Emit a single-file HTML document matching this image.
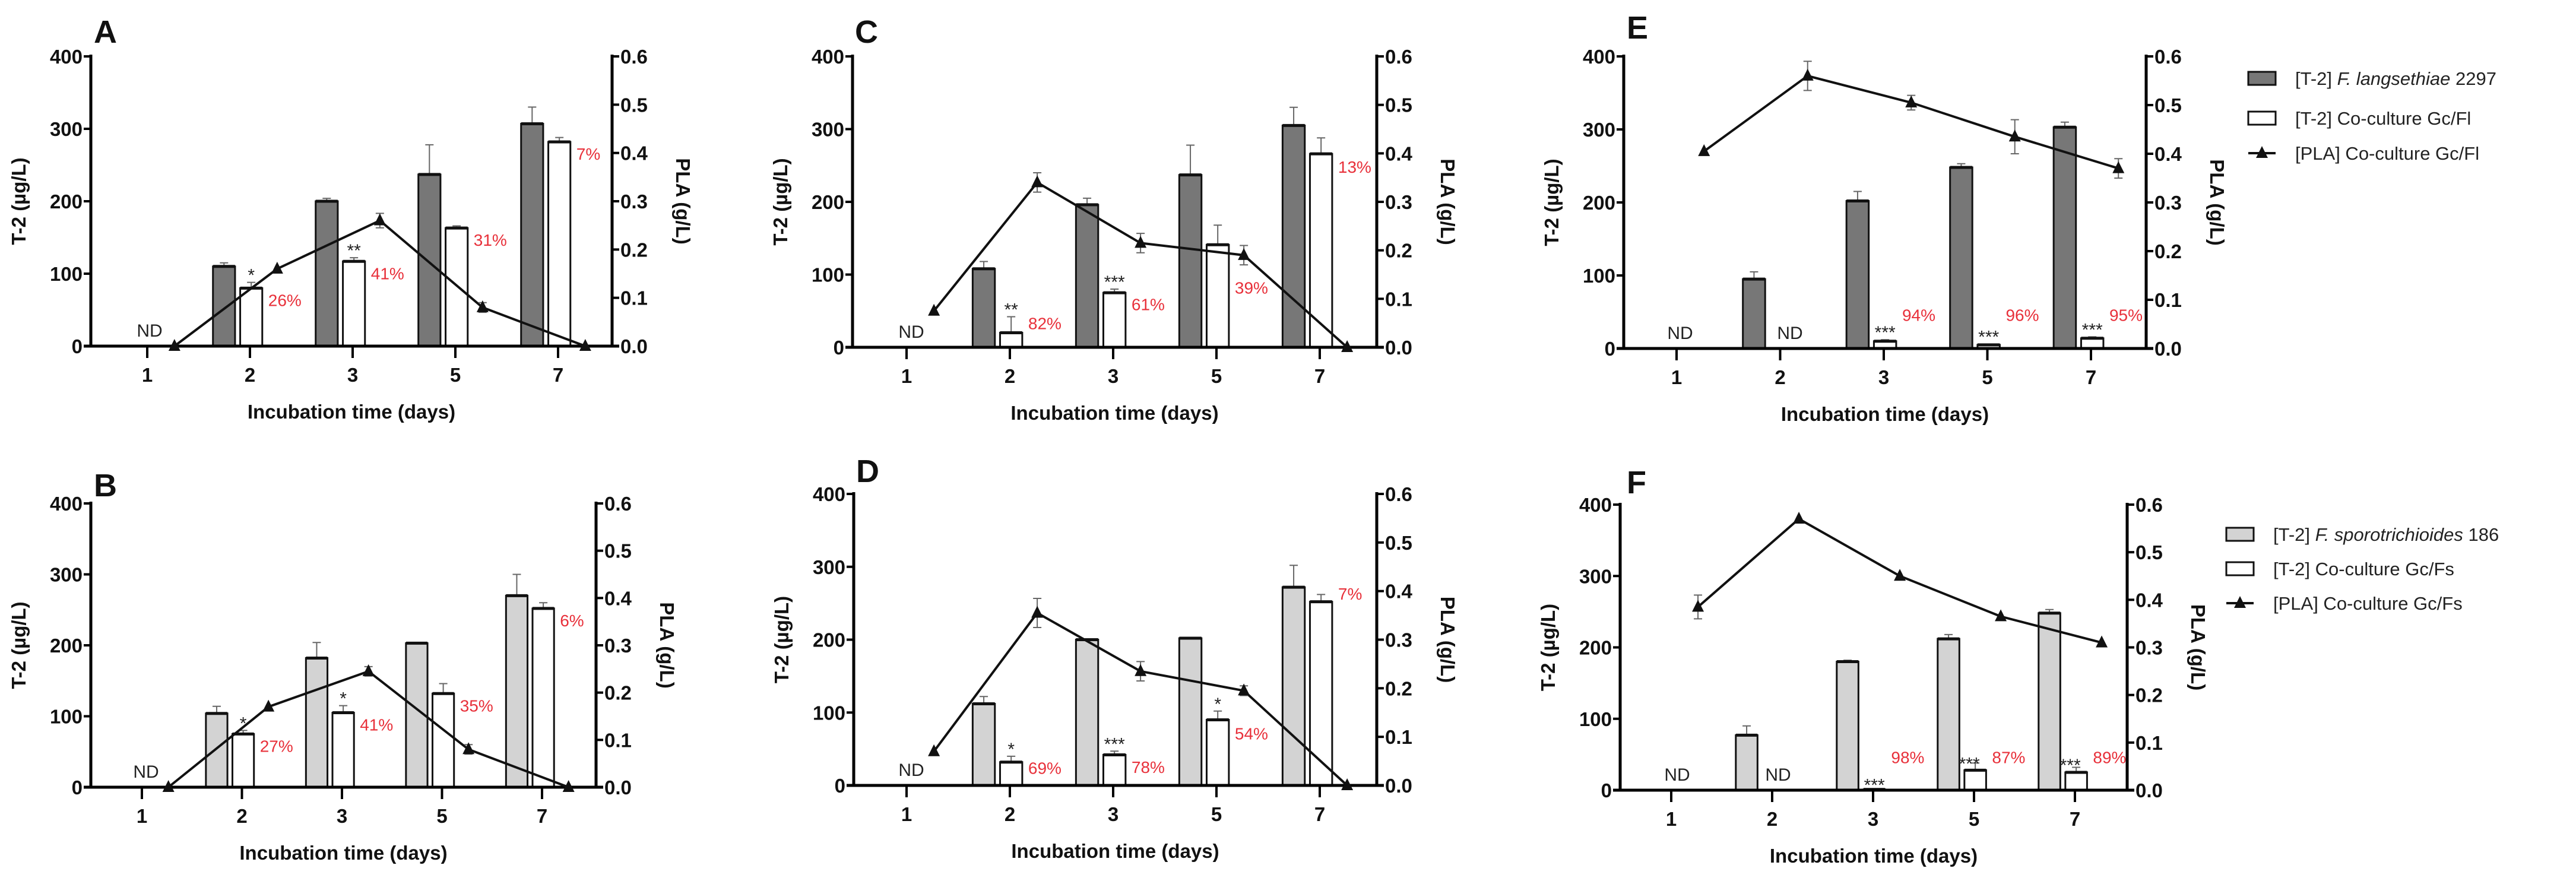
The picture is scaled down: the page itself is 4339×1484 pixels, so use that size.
<!DOCTYPE html>
<html><head><meta charset="utf-8"><style>
html,body{margin:0;padding:0;background:#fff;}
svg{display:block;font-family:"Liberation Sans",Arial,sans-serif;}
</style></head><body>
<svg id="fig" width="4339" height="1484" viewBox="0 0 4339 1484" xmlns="http://www.w3.org/2000/svg">
<rect width="4339" height="1484" fill="#fff"/>
</svg>
<script>
const days = ["1","2","3","5","7"];
const leftTicks = [0,100,200,300,400];
const rightTicks = ["0.0","0.1","0.2","0.3","0.4","0.5","0.6"];
// Panel A
const aGray = [null,110,200,237,307]; const aGrayErr=[0,5,4,41,23];
const aWhite = [null,80,117,163,282]; const aWhiteErr=[0,8,5,3,6];
const aPla = [0,0.16,0.26,0.08,0]; const aPlaErr=[0,0,0.015,0.01,0];
const aStars = ["","*","**","",""]; const aPct = ["","26%","41%","31%","7%"];
// Panel B
const bGray = [null,104,182,203,270]; const bGrayErr=[0,10,22,0,30];
const bWhite = [null,75,105,132,252]; const bWhiteErr=[0,5,10,14,8];
const bPla = [0,0.17,0.245,0.08,0]; const bPlaErr=[0,0,0.01,0.01,0];
const bStars = ["","*","*","",""]; const bPct = ["","27%","41%","35%","6%"];
// Panel C
const cGray = [null,108,196,237,305]; const cGrayErr=[0,10,9,41,25];
const cWhite = [null,20,75,141,266]; const cWhiteErr=[0,22,5,27,22];
const cPla = [0.075,0.34,0.215,0.19,0]; const cPlaErr=[0,0.02,0.02,0.02,0];
const cStars = ["","**","***","",""]; const cPct = ["","82%","61%","39%","13%"];
// Panel D
const dGray = [null,112,200,202,272]; const dGrayErr=[0,10,0,0,30];
const dWhite = [null,32,42,90,252]; const dWhiteErr=[0,8,5,12,10];
const dPla = [0.07,0.355,0.235,0.195,0]; const dPlaErr=[0,0.03,0.02,0.01,0];
const dStars = ["","*","***","*",""]; const dPct = ["","69%","78%","54%","7%"];
// Panel E
const eGray = [null,95,202,248,303]; const eGrayErr=[0,10,13,5,7];
const eWhite = [null,0,10,5,14]; const eWhiteErr=[0,0,2,1,2];
const ePla = [0.405,0.56,0.505,0.435,0.37]; const ePlaErr=[0,0.03,0.015,0.035,0.02];
const eStars = ["","","***","***","***"]; const ePct = ["","","94%","96%","95%"];
// Panel F
const fGray = [null,77,180,212,248]; const fGrayErr=[0,13,2,6,5];
const fWhite = [null,0,1,28,25]; const fWhiteErr=[0,0,0,10,7];
const fPla = [0.385,0.57,0.45,0.365,0.31]; const fPlaErr=[0.025,0,0,0,0];
const fStars = ["","","***","***","***"]; const fPct = ["","","98%","87%","89%"];

const NS="http://www.w3.org/2000/svg";
const svg=document.getElementById('fig');
function mk(tag,attrs,parent,text){const e=document.createElementNS(NS,tag);for(const k in attrs)e.setAttribute(k,attrs[k]);if(text!==undefined)e.textContent=text;(parent||svg).appendChild(e);return e;}

function panel(cfg){
  const g=mk('g',{});
  
  
  const yT=v=>cfg.y0-(v/400)*(cfg.y0-cfg.y400);
  const yP=v=>cfg.y0-(v/0.6)*(cfg.y0-cfg.y400);
  const xT=i=>cfg.t1+i*cfg.sp;
  const sp=cfg.sp, bw=0.215*sp;
  const lt=mk('text',{x:cfg.lx,y:cfg.ly,'font-size':54,'font-weight':'bold',fill:'#111'},g,cfg.id);
  
  
  for(let i=0;i<days.length;i++){
    const x=xT(i);
    const gv=cfg.gray[i];
    if(gv!==null){
      const gx=x-0.36*sp;
      if(cfg.grayErr[i]>0) mk('path',{d:`M${gx+bw/2} ${yT(gv)} V${yT(gv+cfg.grayErr[i])} M${gx+bw/2-7} ${yT(gv+cfg.grayErr[i])} H${gx+bw/2+7}`,stroke:'#666','stroke-width':2,fill:'none'},g);
      const r=mk('rect',{x:gx,y:yT(gv),width:bw,height:cfg.y0-yT(gv),fill:cfg.color,stroke:'#111','stroke-width':3},g);
      
      
      mk('line',{x1:gx,x2:gx+bw,y1:yT(gv),y2:yT(gv),stroke:'#111','stroke-width':5},g);
    }
    const wv=cfg.white[i];
    const wx=x-0.095*sp;
    if(wv!==null){
      if(cfg.whiteErr[i]>0) mk('path',{d:`M${wx+bw/2} ${yT(wv)} V${yT(wv+cfg.whiteErr[i])} M${wx+bw/2-7} ${yT(wv+cfg.whiteErr[i])} H${wx+bw/2+7}`,stroke:'#666','stroke-width':2,fill:'none'},g);
      if(wv>0){
        const r=mk('rect',{x:wx,y:yT(wv),width:bw,height:cfg.y0-yT(wv),fill:'#fff',stroke:'#111','stroke-width':3},g);
        
        
        mk('line',{x1:wx,x2:wx+bw,y1:yT(wv),y2:yT(wv),stroke:'#111','stroke-width':5},g);
      }
      const top=yT(wv+cfg.whiteErr[i]);
      if(cfg.stars[i]){
        const sx=cfg.starLeft&&cfg.starLeft[i]?wx+bw/2-10:wx+bw/2;
        const sy=cfg.starY&&cfg.starY[i]?yT(cfg.starY[i])+16:top-2;
        const s=mk('text',{x:sx,y:sy,'font-size':30,'text-anchor':'middle',fill:'#222'},g,cfg.stars[i]);
        
        
      }
      if(cfg.pct[i]){
        const py=cfg.pctY?yT(cfg.pctY[i]):yT(wv)+30;
        const p=mk('text',{x:wx+bw+(cfg.pctDx||10),y:py,'font-size':28,fill:'#e8303a'},g,cfg.pct[i]);
        
        
      }
    }
  }
  cfg.nd.forEach(xx=>{const t=mk('text',{x:xx,y:cfg.y0-16,'font-size':30,fill:'#222','text-anchor':'middle'},g,'ND');
    });
  const ax=mk('path',{d:`M${cfg.L} ${cfg.y400-3} V${cfg.y0} M${cfg.R} ${cfg.y400-3} V${cfg.y0} M${cfg.L-12} ${cfg.y0} H${cfg.R+12}`,stroke:'#000','stroke-width':5,fill:'none'},g);
  
  
  leftTicks.forEach(v=>{const y=yT(v);mk('line',{x1:cfg.L-12,x2:cfg.L,y1:y,y2:y,stroke:'#000','stroke-width':4},g);
    const t=mk('text',{x:cfg.L-14,y:y+12,'font-size':33,'font-weight':'bold','text-anchor':'end',fill:'#111'},g,String(v));
    });
  rightTicks.forEach(v=>{const y=yP(+v);mk('line',{x1:cfg.R,x2:cfg.R+12,y1:y,y2:y,stroke:'#000','stroke-width':4},g);
    const t=mk('text',{x:cfg.R+14,y:y+12,'font-size':33,'font-weight':'bold',fill:'#111'},g,v);
    });
  days.forEach((d,i)=>{const x=xT(i);mk('line',{x1:x,x2:x,y1:cfg.y0,y2:cfg.y0+20,stroke:'#000','stroke-width':4},g);
    const t=mk('text',{x:x,y:cfg.y0+60,'font-size':33,'font-weight':'bold','text-anchor':'middle',fill:'#111'},g,d);
    });
  const xt=mk('text',{x:(cfg.L+cfg.R)/2,y:cfg.y0+122,'font-size':33,'font-weight':'bold','text-anchor':'middle',fill:'#111'},g,'Incubation time (days)');
  
  const ym=(cfg.y0+cfg.y400)/2;
  const yt=mk('text',{x:0,y:0,transform:`translate(${cfg.L-110},${ym}) rotate(-90)`,'font-size':33,'font-weight':'bold','text-anchor':'middle',fill:'#111'},g,'T-2 (µg/L)');
  
  const y2=mk('text',{x:0,y:0,transform:`translate(${cfg.R+108},${ym}) rotate(90)`,'font-size':33,'font-weight':'bold','text-anchor':'middle',fill:'#111'},g,'PLA (g/L)');
  
  let d='';
  cfg.pla.forEach((v,i)=>{const x=xT(i)+0.265*sp;d+=(i?'L':'M')+x+' '+yP(v)+' ';});
  const ln=mk('path',{d:d,stroke:'#111','stroke-width':4,fill:'none'},g);
  
  cfg.pla.forEach((v,i)=>{const x=xT(i)+0.265*sp,y=yP(v);
    const e=cfg.plaErr[i];
    if(e>0) mk('path',{d:`M${x} ${yP(v-e)} V${yP(v+e)} M${x-7} ${yP(v+e)} H${x+7} M${x-7} ${yP(v-e)} H${x+7}`,stroke:'#666','stroke-width':2,fill:'none'},g);
    const m=mk('path',{d:`M${x} ${y-12} L${x+10} ${y+8} L${x-10} ${y+8} Z`,fill:'#111'},g);
    });
}

panel({id:'A',L:153,R:1031,y400:95,y0:583,t1:248,sp:173,lx:158,ly:72,color:'#777',gray:aGray,grayErr:aGrayErr,white:aWhite,whiteErr:aWhiteErr,pla:aPla,plaErr:aPlaErr,stars:aStars,pct:aPct,nd:[252]});
panel({id:'B',L:153,R:1004,y400:848,y0:1326,t1:239,sp:168.5,lx:158,ly:836,color:'#d3d3d3',gray:bGray,grayErr:bGrayErr,white:bWhite,whiteErr:bWhiteErr,pla:bPla,plaErr:bPlaErr,stars:bStars,pct:bPct,nd:[246]});
panel({id:'C',L:1436,R:2319,y400:95,y0:585,t1:1527,sp:174,lx:1440,ly:72,color:'#777',gray:cGray,grayErr:cGrayErr,white:cWhite,whiteErr:cWhiteErr,pla:cPla,plaErr:cPlaErr,stars:cStars,pct:cPct,pctY:[0,25,51,74,240],nd:[1535]});
panel({id:'D',L:1438,R:2319,y400:832,y0:1323,t1:1527,sp:174,lx:1442,ly:812,color:'#d3d3d3',gray:dGray,grayErr:dGrayErr,white:dWhite,whiteErr:dWhiteErr,pla:dPla,plaErr:dPlaErr,stars:dStars,pct:dPct,pctY:[0,16,17,63,255],nd:[1535]});
panel({id:'E',L:2735,R:3615,y400:95,y0:587,t1:2824,sp:174.5,lx:2740,ly:65,color:'#777',gray:eGray,grayErr:eGrayErr,white:eWhite,whiteErr:eWhiteErr,pla:ePla,plaErr:ePlaErr,stars:eStars,pct:ePct,pctY:[0,0,38,38,38],nd:[2830,3015]});
panel({id:'F',L:2729,R:3583,y400:850,y0:1331,t1:2815,sp:170,lx:2740,ly:831,color:'#d3d3d3',gray:fGray,grayErr:fGrayErr,white:fWhite,whiteErr:fWhiteErr,pla:fPla,plaErr:fPlaErr,stars:fStars,pct:fPct,pctY:[0,0,38,38,38],starY:[0,0,12,42,40],starLeft:[0,0,0,1,1],nd:[2825,2995]});

function legend(x,bx,rows,labels,fills,name){
  const g=mk('g',{});
  
  
  rows.forEach((y,i)=>{
    if(i<2){mk('rect',{x:bx,y:y-11,width:46,height:22,fill:fills[i],stroke:'#111','stroke-width':3},g);}
    else{mk('line',{x1:bx,x2:bx+46,y1:y,y2:y,stroke:'#111','stroke-width':4},g);mk('path',{d:`M${bx+23} ${y-12} L${bx+33} ${y+8} L${bx+13} ${y+8} Z`,fill:'#111'},g);}
    const t=mk('text',{x:x,y:y+11,'font-size':31,fill:'#222'},g);
    
    
    labels[i].forEach(p=>{mk('tspan',{'font-style':p[1]?'italic':'normal'},t,p[0]);});
  });
}
legend(3866,3787,[132,199,258],[[["[T-2] ",0],["F. langsethiae",1],[" 2297",0]],[["[T-2] Co-culture Gc/Fl",0]],[["[PLA] Co-culture Gc/Fl",0]]],['#777','#fff'],'legend-top');
legend(3829,3750,[900,958,1016],[[["[T-2] ",0],["F. sporotrichioides",1],[" 186",0]],[["[T-2] Co-culture Gc/Fs",0]],[["[PLA] Co-culture Gc/Fs",0]]],['#d3d3d3','#fff'],'legend-bottom');
</script>
</body></html>
